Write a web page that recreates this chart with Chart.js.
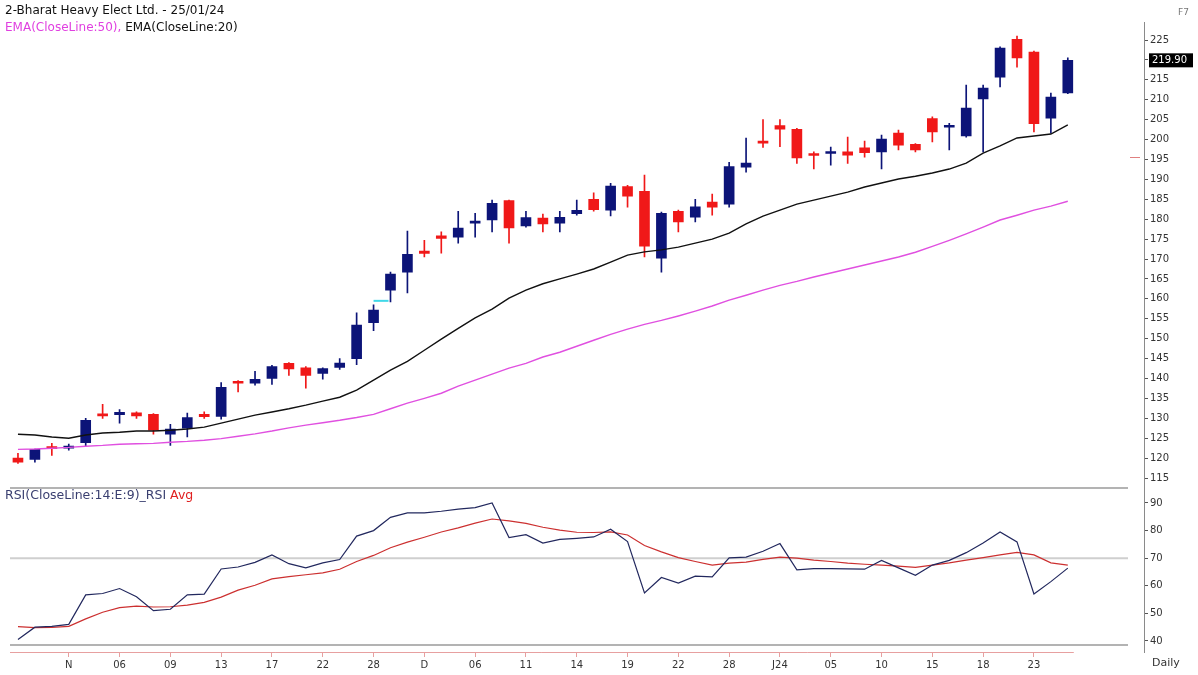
<!DOCTYPE html>
<html>
<head>
<meta charset="utf-8">
<title>BHEL Daily</title>
<script src="https://cdn.jsdelivr.net/npm/chart.js@4.4.1/dist/chart.umd.min.js"></script>
<style>
  body { margin: 0; background: #fff; width: 1198px; height: 675px; overflow: hidden; position: relative; font-family: "DejaVu Sans", Verdana, sans-serif; }
  .txt { position: absolute; font-size: 12px; white-space: nowrap; line-height: 14px; }
  #priceWrap { position: absolute; left: 0; top: 0; width: 1198px; height: 490px; }
  #rsiWrap { position: absolute; left: 0; top: 487px; width: 1198px; height: 188px; }
</style>
</head>
<body>
<div id="priceWrap"><canvas id="priceChart"></canvas></div>
<div id="rsiWrap"><canvas id="rsiChart"></canvas></div>
<div class="txt" style="left:5px;top:3px;color:#111">2-Bharat Heavy Elect Ltd. - 25/01/24</div>
<div class="txt" style="left:5px;top:20px"><span style="color:#e040e0">EMA(CloseLine:50),</span> <span style="color:#111">EMA(CloseLine:20)</span></div>
<div class="txt" style="left:5px;top:488px;font-size:12.5px"><span style="color:#3a3f70">RSI(CloseLine:14:E:9)_RSI</span> <span style="color:#e02020">Avg</span></div>
<div class="txt" style="left:1178px;top:5px;color:#777;font-size:9px">F7</div>
<div class="txt" style="left:1152px;top:656px;color:#333;font-size:11px">Daily</div>
<script>
// x labels, one per trading day (27 Oct 2023 .. 25 Jan 2024)
const tickLabels = ['', '', '', 'N', '', '', '06', '', '', '09', '', '', '13', '', '', '17', '', '', '22', '', '',
  '28', '', '', 'D', '', '', '06', '', '', '11', '', '', '14', '', '', '19', '', '', '22', '', '',
  '28', '', '', 'J24', '', '', '05', '', '', '10', '', '', '15', '', '', '18', '', '', '23', '', ''];
const emptySlots = 4;

// candles
const opens = [120.0, 119.7, 122.9, 122.5, 123.9, 131.0, 130.9, 131.4, 131.0, 126.0, 127.5, 131.0, 130.5, 139.2, 138.8, 140.0,
  143.8, 142.7, 141.3, 142.8, 145.0, 154.0, 162.2, 166.7, 172.0, 175.8, 175.5, 179.0, 179.8, 184.7, 178.3, 180.3,
  179.0, 181.4, 185.0, 182.3, 188.2, 187.0, 170.2, 182.0, 180.5, 184.3, 183.8, 193.1, 199.6, 203.5, 202.6, 196.4,
  196.5, 196.9, 197.9, 196.9, 201.6, 198.8, 205.3, 203.1, 200.9, 210.2, 215.7, 225.2, 222.0, 205.4, 211.7];
const highs = [121.2, 122.3, 123.7, 123.5, 130.0, 133.5, 132.2, 131.6, 131.2, 128.5, 131.3, 131.6, 139.0, 139.5, 141.8, 143.3,
  144.0, 143.0, 142.7, 145.0, 156.5, 158.5, 166.7, 177.0, 174.7, 176.8, 182.0, 181.5, 184.8, 184.8, 182.0, 181.3,
  182.0, 184.8, 186.6, 189.0, 188.5, 191.1, 181.8, 182.3, 185.0, 186.3, 194.3, 200.4, 205.0, 205.0, 202.8, 196.9,
  198.1, 200.6, 199.6, 201.1, 202.4, 199.0, 205.7, 204.1, 213.7, 213.7, 223.3, 226.0, 222.2, 211.7, 220.5];
const lows = [118.7, 119.0, 120.7, 122.0, 123.0, 130.0, 128.8, 130.0, 126.0, 123.2, 125.3, 130.0, 129.8, 136.6, 138.3, 138.5,
  140.8, 137.6, 139.8, 142.3, 143.5, 152.0, 159.2, 161.5, 170.5, 171.5, 174.0, 175.5, 176.8, 174.0, 178.0, 176.8,
  176.8, 181.0, 182.0, 180.8, 183.0, 170.5, 166.7, 176.8, 179.3, 181.0, 183.0, 191.8, 198.0, 198.2, 194.0, 192.6,
  193.6, 194.0, 195.6, 192.6, 197.4, 196.9, 199.4, 197.4, 200.6, 196.9, 213.2, 218.2, 201.9, 201.6, 211.5];
const closes = [119.0, 122.2, 122.4, 122.8, 129.5, 130.6, 131.5, 130.6, 127.0, 127.3, 130.2, 130.4, 137.8, 138.8, 139.8, 143.0,
  142.4, 140.8, 142.5, 143.9, 153.4, 157.2, 166.2, 171.2, 171.4, 175.2, 177.8, 179.4, 184.0, 177.8, 180.4, 178.8,
  180.5, 182.2, 182.4, 188.3, 185.8, 173.2, 181.5, 179.3, 183.1, 183.0, 193.2, 194.1, 199.1, 202.6, 195.4, 196.0,
  196.7, 196.1, 196.7, 200.1, 198.6, 197.4, 201.9, 203.6, 207.9, 212.9, 223.0, 220.5, 204.0, 210.7, 219.9];

// moving averages as drawn
const ema20 = [126.0, 125.8, 125.3, 125.0, 125.8, 126.3, 126.5, 126.8, 126.8, 127.0, 127.3, 127.8, 128.8, 129.8, 130.8, 131.6,
  132.4, 133.3, 134.3, 135.3, 137.1, 139.6, 142.1, 144.3, 147.1, 149.9, 152.6, 155.2, 157.4, 160.2, 162.2, 163.8,
  165.0, 166.2, 167.5, 169.2, 171.0, 171.8, 172.3, 173.0, 174.0, 175.0, 176.5, 178.8, 180.8, 182.3, 183.8, 184.8,
  185.8, 186.8, 188.1, 189.1, 190.1, 190.8, 191.6, 192.6, 194.1, 196.6, 198.4, 200.4, 200.9, 201.4, 203.7];
const ema50 = [122.2, 122.3, 122.5, 122.7, 123.0, 123.2, 123.5, 123.6, 123.7, 124.0, 124.2, 124.5, 124.9, 125.5, 126.1, 126.8,
  127.6, 128.3, 128.9, 129.5, 130.2, 131.0, 132.4, 133.8, 135.0, 136.3, 138.1, 139.6, 141.1, 142.6, 143.8, 145.4,
  146.6, 148.1, 149.6, 151.1, 152.4, 153.6, 154.6, 155.7, 156.9, 158.2, 159.7, 160.9, 162.2, 163.4, 164.4, 165.5,
  166.5, 167.5, 168.5, 169.5, 170.5, 171.7, 173.2, 174.7, 176.3, 178.0, 179.8, 181.0, 182.3, 183.3, 184.5];

// RSI panel
const rsi = [40.5, 45.0, 45.3, 46.0, 56.7, 57.2, 59.0, 56.0, 51.0, 51.5, 56.7, 57.0, 66.1, 66.8, 68.5, 71.2,
  68.0, 66.5, 68.3, 69.5, 78.0, 80.0, 84.8, 86.4, 86.4, 87.0, 87.8, 88.3, 90.0, 77.5, 78.5, 75.5,
  76.8, 77.2, 77.7, 80.5, 76.0, 57.4, 63.0, 61.0, 63.5, 63.2, 70.1, 70.4, 72.5, 75.3, 65.8, 66.2,
  66.2, 66.1, 66.0, 69.2, 66.5, 63.8, 67.5, 69.2, 72.0, 75.5, 79.5, 75.9, 57.0, 61.5, 66.4];
const rsiAvg = [45.2, 44.8, 44.9, 45.3, 48.0, 50.4, 52.1, 52.6, 52.3, 52.4, 53.0, 54.0, 55.9, 58.4, 60.2, 62.5,
  63.3, 64.0, 64.7, 66.0, 68.8, 71.0, 73.8, 75.8, 77.6, 79.5, 81.0, 82.7, 84.2, 83.5, 82.6, 81.2,
  80.2, 79.4, 79.3, 79.5, 78.4, 74.6, 72.3, 70.2, 68.8, 67.5, 68.2, 68.6, 69.6, 70.4, 70.0, 69.3,
  68.8, 68.2, 67.8, 67.5, 67.1, 66.7, 67.5, 68.3, 69.3, 70.2, 71.2, 72.1, 71.2, 68.3, 67.5];

const priceTicks = { min: 112.5, max: 229.5, step: 5 };
const rsiTicks = { min: 36, max: 95, step: 10, level: 70 };
const markerPrice = 195.6;   // small pink tick next to the price axis
const cyanDash = 159.5;      // cyan dash between 28 Nov and 29 Nov

const UP = '#0c1478';
const DOWN = '#f01818';
const AXIS_W = 54;
const LEFT_PAD = 9.5;
const FONT = 'DejaVu Sans';

const labels = tickLabels.concat(new Array(emptySlots).fill(''));
const candleColors = closes.map((c, i) => (c >= opens[i] ? UP : DOWN));
const lastIdx = closes.length - 1;

// Price panel extras: last price box, cyan dash, pink marker
const priceExtras = {
  id: 'priceExtras',
  afterDraw(chart) {
    const { ctx, scales } = chart;
    const x = scales.x, y = scales.y;
    ctx.save();

    // cyan dash
    ctx.strokeStyle = '#40d8e8';
    ctx.lineWidth = 2;
    ctx.beginPath();
    ctx.moveTo(x.getPixelForValue(21), y.getPixelForValue(cyanDash));
    ctx.lineTo(x.getPixelForValue(22) - 2, y.getPixelForValue(cyanDash));
    ctx.stroke();

    // pink marker next to axis
    const my = Math.round(y.getPixelForValue(markerPrice)) + 0.5;
    ctx.strokeStyle = '#e08080';
    ctx.lineWidth = 1;
    ctx.beginPath();
    ctx.moveTo(chart.chartArea.right - 14, my);
    ctx.lineTo(chart.chartArea.right - 4, my);
    ctx.stroke();

    // last close box
    const last = closes[lastIdx];
    const by = y.getPixelForValue(last);
    ctx.fillStyle = '#000';
    ctx.fillRect(chart.chartArea.right + 5, by - 7, 44, 14);
    ctx.fillStyle = '#fff';
    ctx.font = '10px "' + FONT + '"';
    ctx.textBaseline = 'middle';
    ctx.fillText(last.toFixed(2), chart.chartArea.right + 8, by + 0.5);
    ctx.restore();
  },
};

// RSI panel extras: frame lines, 70 level, x axis line
const rsiExtras = {
  id: 'rsiExtras',
  beforeDatasetsDraw(chart) {
    const { ctx, chartArea, scales } = chart;
    const right = chartArea.right - 16;
    ctx.save();
    ctx.strokeStyle = '#cfcfcf';
    ctx.lineWidth = 2;
    const ly = scales.y.getPixelForValue(rsiTicks.level);
    ctx.beginPath();
    ctx.moveTo(10, ly);
    ctx.lineTo(right, ly);
    ctx.stroke();

    ctx.strokeStyle = '#9a9a9a';
    ctx.lineWidth = 1.5;
    ctx.beginPath();
    ctx.moveTo(10, 1);
    ctx.lineTo(right, 1);
    ctx.moveTo(10, chartArea.bottom - 7);
    ctx.lineTo(right, chartArea.bottom - 7);
    ctx.stroke();

    ctx.strokeStyle = '#e7a0a0';
    ctx.lineWidth = 1;
    ctx.beginPath();
    ctx.moveTo(10, chartArea.bottom + 0.5);
    ctx.lineTo(scales.x.getPixelForValue(lastIdx) + 6, chartArea.bottom + 0.5);
    ctx.stroke();
    ctx.restore();
  },
};

function yAxis(range, tickCallback) {
  const ticks = {
    stepSize: range.step,
    includeBounds: false,
    padding: 2,
    color: '#333',
    font: { family: FONT, size: 10 },
  };
  if (tickCallback) ticks.callback = tickCallback;
  return {
    position: 'right',
    min: range.min,
    max: range.max,
    afterFit(scale) {
      // fixed axis width, no extra room for half labels
      scale.width = AXIS_W;
      scale.paddingTop = 0;
      scale.paddingBottom = 0;
    },
    border: { display: true, color: '#8a8a8a', width: 1 },
    grid: { drawOnChartArea: false, drawTicks: true, tickLength: 4, tickColor: '#555' },
    ticks: ticks,
  };
}

function initPriceChart() {
  const ctx = document.getElementById('priceChart');
  return new Chart(ctx, {
    type: 'bar',
    data: {
      labels: labels,
      datasets: [
        {
          label: 'EMA20',
          type: 'line',
          data: ema20,
          borderColor: '#111',
          borderWidth: 1.4,
          pointRadius: 0,
          tension: 0,
          order: 1,
        },
        {
          label: 'EMA50',
          type: 'line',
          data: ema50,
          borderColor: '#e050e0',
          borderWidth: 1.4,
          pointRadius: 0,
          tension: 0,
          order: 1,
        },
        {
          label: 'Body',
          data: opens.map((o, i) => [o, closes[i]]),
          backgroundColor: candleColors,
          barThickness: 10,
          minBarLength: 2,
          grouped: false,
          order: 2,
        },
        {
          label: 'Wick',
          data: lows.map((l, i) => [l, highs[i]]),
          backgroundColor: candleColors,
          barThickness: 1,
          grouped: false,
          order: 3,
        },
      ],
    },
    options: {
      responsive: true,
      maintainAspectRatio: false,
      animation: false,
      layout: { padding: { left: LEFT_PAD, top: 22.1, bottom: 2, right: 0 } },
      plugins: { legend: { display: false }, tooltip: { enabled: false } },
      scales: {
        x: { display: false, offset: true },
        y: yAxis(priceTicks, (v) => (v === 220 ? '' : v)),
      },
    },
    plugins: [priceExtras],
  });
}

function initRsiChart() {
  const ctx = document.getElementById('rsiChart');
  return new Chart(ctx, {
    type: 'line',
    data: {
      labels: labels,
      datasets: [
        {
          label: 'RSI',
          data: rsi,
          borderColor: '#22285e',
          borderWidth: 1.2,
          pointRadius: 0,
          tension: 0,
        },
        {
          label: 'Avg',
          data: rsiAvg,
          borderColor: '#cc3030',
          borderWidth: 1.2,
          pointRadius: 0,
          tension: 0,
        },
      ],
    },
    options: {
      responsive: true,
      maintainAspectRatio: false,
      animation: false,
      layout: { padding: { left: LEFT_PAD, top: 2.2, bottom: 0, right: 0 } },
      plugins: { legend: { display: false }, tooltip: { enabled: false } },
      scales: {
        x: {
          offset: true,
          afterFit(scale) {
            scale.height = 23;
            scale.paddingLeft = 0;
            scale.paddingRight = 0;
          },
          border: { display: false },
          grid: {
            drawOnChartArea: false,
            drawTicks: true,
            tickLength: 5,
            tickColor: (c) => (c.tick && c.tick.label ? '#e7a0a0' : 'rgba(0,0,0,0)'),
          },
          ticks: {
            autoSkip: false,
            maxRotation: 0,
            padding: 2,
            color: '#333',
            font: { family: FONT, size: 10 },
          },
        },
        y: yAxis(rsiTicks),
      },
    },
    plugins: [rsiExtras],
  });
}

initPriceChart();
initRsiChart();
</script>
</body>
</html>
